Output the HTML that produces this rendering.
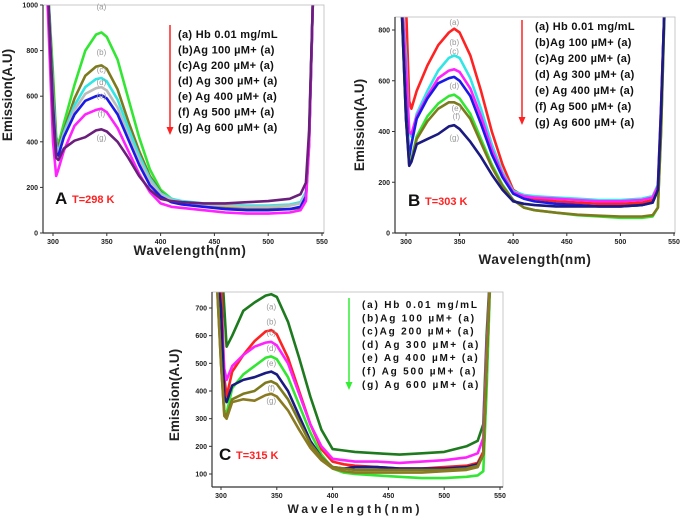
<!DOCTYPE html>
<html><head><meta charset="utf-8"><style>
html,body{margin:0;padding:0;background:#fff;}
svg{display:block;font-family:"Liberation Sans",sans-serif;}
.tk{font-size:7px;font-weight:bold;fill:#222;}
.lg{font-size:11px;font-weight:bold;fill:#111;}
.lgc{font-size:10px;font-weight:bold;fill:#111;}
.sl{font-size:8px;fill:#999;}
</style></head><body>
<svg id="fig" width="685" height="518" viewBox="0 0 685 518"></svg>
<script>
// Wavelength sampling (nm) used for all series
const wavelengths=[295,300,303,305,310,320,330,340,345,350,360,370,380,390,400,410,420,440,460,480,500,520,530,535,538,542];
// Panel A series (T=298 K)
const A_a=[1100,700,420,390,480,650,800,870,880,860,760,590,420,280,190,150,135,125,115,110,105,105,110,150,400,1100];
const A_b=[1100,650,400,380,450,590,690,730,735,720,630,490,360,250,180,145,135,120,110,105,105,105,110,150,400,1100];
const A_c=[1100,600,380,360,440,560,640,675,680,665,585,460,340,240,175,150,140,130,125,120,120,125,135,180,420,1100];
const A_d=[1100,580,370,350,430,540,610,635,640,625,550,430,320,230,170,145,135,125,120,115,115,120,130,170,410,1100];
const A_e=[1100,560,350,340,420,520,580,600,605,590,520,410,300,210,160,135,125,115,105,100,100,105,115,160,400,1100];
const A_f=[1000,400,250,280,360,470,520,540,545,530,460,360,260,180,130,115,110,100,90,85,85,90,100,140,380,1100];
const A_g=[1100,520,330,320,370,405,420,450,455,445,400,330,250,190,150,140,135,130,130,135,140,150,170,220,450,1100];
// Panel B series (T=303 K)
const B_a=[1000,900,520,490,560,660,740,790,805,790,700,560,400,270,170,145,135,125,120,115,115,120,130,180,500,1000];
const B_b=[1000,700,400,380,470,560,640,690,700,690,610,490,350,240,165,150,145,140,135,130,130,135,145,190,500,1000];
const B_c=[1000,650,400,390,460,540,610,640,645,635,570,460,330,230,160,145,140,135,130,125,125,130,140,185,500,1000];
const B_d=[1000,500,300,350,450,530,590,610,615,600,540,430,310,220,155,135,125,115,110,105,105,110,120,170,480,1000];
const B_e=[1000,450,280,290,380,460,510,540,545,530,470,370,270,190,130,100,90,80,70,65,60,60,65,100,400,1000];
const B_f=[1000,450,270,285,370,440,490,515,515,505,450,355,260,185,130,100,90,80,72,68,65,65,70,100,400,1000];
const B_g=[1000,450,265,280,350,370,390,420,425,410,360,300,230,170,125,115,110,105,105,105,105,110,120,170,480,1000];
// Panel C series (T=315 K)
const C_a=[900,900,700,560,600,690,720,745,750,740,650,520,380,260,190,185,180,175,170,175,180,200,220,280,600,900];
const C_b=[900,800,450,380,470,530,580,615,620,605,520,400,280,190,145,135,130,125,120,120,125,130,140,180,500,900];
const C_c=[900,700,480,440,490,530,560,575,578,565,500,390,280,200,155,150,145,145,140,145,150,160,175,230,550,900];
const C_d=[900,600,330,320,410,460,490,520,525,515,450,350,250,170,120,105,100,95,90,85,85,90,95,110,400,900];
const C_e=[900,700,380,360,420,440,450,465,470,460,400,310,220,160,125,120,125,125,120,120,120,125,135,170,500,900];
const C_f=[900,500,320,310,370,390,400,430,435,425,370,290,210,160,125,120,115,115,115,115,115,120,130,170,500,900];
const C_g=[900,500,310,300,360,370,365,385,390,380,330,260,195,150,120,110,105,105,105,105,110,115,125,170,500,900];
// Tick labels
const xTicks=[300,350,400,450,500,550];
const yTicksA=[0,200,400,600,800,1000];
const yTicksB=[0,200,400,600,800];
const yTicksC=[100,200,300,400,500,600,700];
const legendLabels=["(a) Hb 0.01 mg/mL","(b)Ag 100 \u00b5M+ (a)","(c)Ag 200 \u00b5M+ (a)","(d) Ag 300 \u00b5M+ (a)","(e) Ag 400 \u00b5M+ (a)","(f) Ag 500 \u00b5M+ (a)","(g) Ag 600 \u00b5M+ (a)"];
const seriesKeys=["a","b","c","d","e","f","g"];

const NS="http://www.w3.org/2000/svg";
const svg=document.getElementById('fig');
function mk(tag,attrs,parent,txt){const e=document.createElementNS(NS,tag);for(const k in attrs)e.setAttribute(k,attrs[k]);if(txt!==undefined)e.textContent=txt;(parent||svg).appendChild(e);return e;}

function panel(p){
  const g=mk('g',{});
  
  
  const sx=w=>p.x0+(w-300)*(p.x550-p.x0)/250;
  const syy=v=>p.yb+(v-p.vb)*(p.yt-p.yb)/(p.vt-p.vb);
  mk('clipPath',{id:'clip'+p.id},g);
  mk('rect',{x:p.L,y:p.T,width:p.R-p.L,height:p.B-p.T},g.lastChild);
  const lines=mk('g',{'clip-path':'url(#clip'+p.id+')'},g);
  p.series.forEach((s,i)=>{
    const pts=wavelengths.map((w,j)=>sx(w).toFixed(1)+','+syy(s[j]).toFixed(1)).join(' ');
    const pl=mk('polyline',{points:pts,fill:'none',stroke:p.colors[i],'stroke-width':2.6,'stroke-linejoin':'round'},lines);
    
    
  });
  const fr=mk('rect',{x:p.L,y:p.T,width:p.R-p.L,height:p.B-p.T,fill:'none',stroke:'#bbb','stroke-width':0.8},g);
  
  mk('line',{x1:p.L,y1:p.B,x2:p.R,y2:p.B,stroke:'#333','stroke-width':1.2},g);
  mk('line',{x1:p.L,y1:p.T,x2:p.L,y2:p.B,stroke:'#333','stroke-width':1.2},g);
  xTicks.forEach(t=>{
    const x=sx(t);
    mk('line',{x1:x,y1:p.B,x2:x,y2:p.B+3,stroke:'#333'},g);
    const tx=mk('text',{x:x,y:p.B+11,'text-anchor':'middle',class:'tk'},g,t);
    
  });
  p.yTicks.forEach(t=>{
    const y=syy(t);
    mk('line',{x1:p.L-3,y1:y,x2:p.L,y2:y,stroke:'#333'},g);
    const tx=mk('text',{x:p.L-5,y:y+2.5,'text-anchor':'end',class:'tk'},g,t);
    
  });
  const yt=mk('text',{x:0,y:0,transform:`translate(${p.ytx},${p.yty}) rotate(-90)`,'text-anchor':'middle','font-size':13.5,'font-weight':'bold',fill:'#222'},g,'Emission(A.U)');
  
  const xt=mk('text',{x:p.xtx,y:p.xty,'text-anchor':'middle','font-size':p.spaced?12:13.5,'font-weight':'bold',fill:'#222','letter-spacing':p.spaced?'3px':'0.6px'},g,'Wavelength(nm)');
  
  const lg=mk('g',{},g);
  
  legendLabels.forEach((l,i)=>{
    const t=mk('text',{x:p.lx,y:p.ly+i*p.ls,class:p.spaced?'lgc':'lg','letter-spacing':p.spaced?'1.8px':'0.3px'},lg,l);
    
  });
  const ar=mk('g',{},g);
  
  mk('line',{x1:p.ax,y1:p.ay1,x2:p.ax,y2:p.ay2-6,stroke:p.ac,'stroke-width':1.5},ar);
  mk('polygon',{points:`${p.ax-3.5},${p.ay2-8} ${p.ax+3.5},${p.ay2-8} ${p.ax},${p.ay2}`,fill:p.ac},ar);
  p.lbl.forEach((q,i)=>{
    const t=mk('text',{x:sx(q[0]),y:syy(q[1]),'text-anchor':'middle',class:'sl'},g,'('+seriesKeys[i]+')');
    
  });
  const pl=mk('text',{x:p.px,y:p.py,'font-size':17,'font-weight':'bold',fill:'#111'},g,p.id);
  
  const tl=mk('text',{x:p.px+17,y:p.py-1,'font-size':11,'font-weight':'bold',fill:'#f22'},g,p.temp);
  
}

panel({id:'A',L:43,R:324,T:5,B:233,x0:53,x550:322,yb:233,vb:0,yt:5,vt:1000,yTicks:yTicksA,
  series:[A_a,A_b,A_c,A_d,A_e,A_f,A_g],colors:['#33e633','#7d7a1e','#33e6e6','#bbbbbb','#1a1ae6','#ff22ff','#6a1f7a'],
  ytx:12,yty:95,xtx:190,xty:255,lx:178,ly:38,ls:15.5,ax:170,ay1:25,ay2:135,ac:'#f22',
  lbl:[[345,980],[345,780],[345,705],[345,650],[345,590],[345,510],[345,405]],px:55,py:204,temp:'T=298 K'});
panel({id:'B',L:395,R:675,T:17,B:233,x0:406,x550:674,yb:233,vb:0,yt:30,vt:800,yTicks:yTicksB,
  series:[B_a,B_b,B_c,B_d,B_e,B_f,B_g],colors:['#ff2222','#33e6e6','#ff22ff','#1a1ae6','#33e633','#7d7a1e','#1a1a80'],
  ytx:364,yty:125,xtx:535,xty:264,lx:535,ly:30,ls:16,ax:522,ay1:20,ay2:125,ac:'#f22',
  lbl:[[345,820],[345,740],[345,705],[345,570],[347,480],[347,450],[345,365]],px:408,py:206,temp:'T=303 K'});
panel({id:'C',L:212,R:503,T:292,B:487,x0:221,x550:500,yb:474,vb:100,yt:308,vt:700,yTicks:yTicksC,spaced:true,
  series:[C_a,C_b,C_c,C_d,C_e,C_f,C_g],colors:['#1e7a1e','#ff2222','#ff22ff','#33e633','#1a1a80','#7d7a1e','#8a7a22'],
  ytx:179,yty:395,xtx:355,xty:513,lx:362,ly:308,ls:13.3,ax:349,ay1:298,ay2:390,ac:'#3e3',
  lbl:[[345,695],[345,640],[345,600],[345,545],[345,490],[345,400],[345,355]],px:219,py:460,temp:'T=315 K'});
</script>
</body></html>
